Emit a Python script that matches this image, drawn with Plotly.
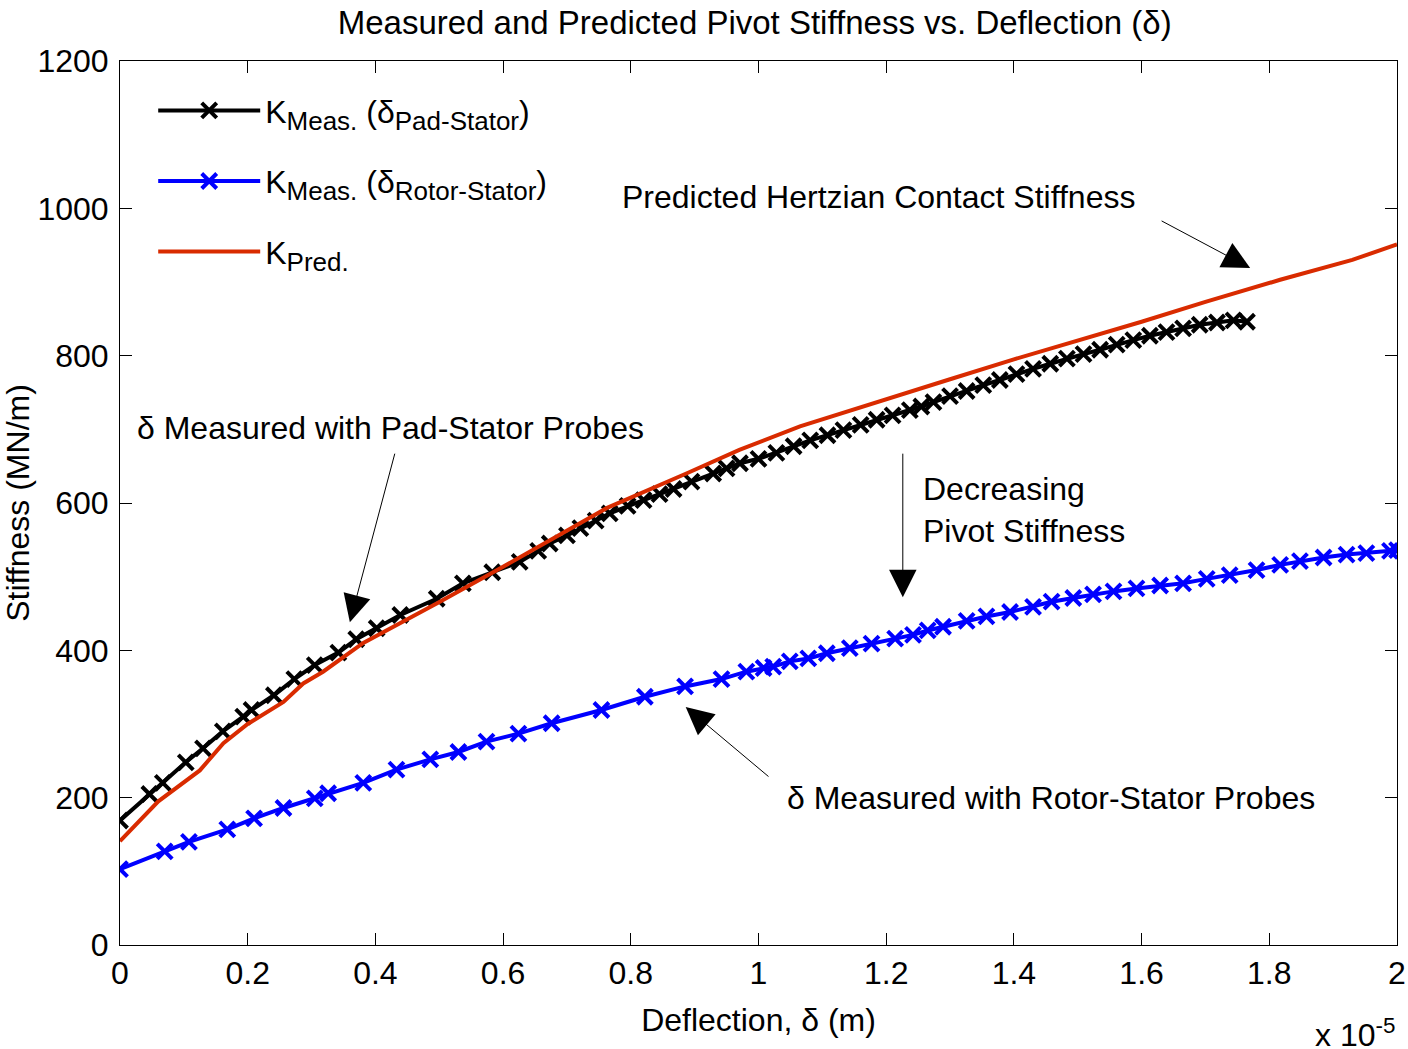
import plotly.graph_objects as go

# x values in units of 1e-5 m
pad_x = [0.000, 0.046, 0.067, 0.103, 0.130, 0.161, 0.193, 0.206, 0.241, 0.273, 0.305, 0.342, 0.370,
         0.402, 0.439, 0.496, 0.537, 0.583, 0.626, 0.655, 0.673, 0.700, 0.721, 0.745, 0.767, 0.795,
         0.820, 0.845, 0.867, 0.895, 0.929, 0.950, 0.971, 1.000, 1.028, 1.055, 1.081, 1.108, 1.133,
         1.160, 1.185, 1.210, 1.237, 1.255, 1.274, 1.300, 1.326, 1.352, 1.378, 1.404, 1.430, 1.457,
         1.483, 1.509, 1.535, 1.561, 1.587, 1.613, 1.639, 1.665, 1.691, 1.718, 1.744, 1.765]
pad_k = [169, 205, 220, 248, 267, 290, 310, 319, 339, 361, 380, 397, 415,
         430, 448, 470, 491, 506, 520, 535, 545, 556, 566, 576, 586, 596,
         604, 612, 619, 629, 640, 647, 654, 660, 668, 677, 685, 692, 699,
         706, 713, 719, 726, 731, 737, 745, 752, 760, 767, 775, 782, 789,
         796, 802, 808, 815, 821, 827, 832, 837, 842, 845, 848, 846]

rotor_x = [0.000, 0.070, 0.108, 0.168, 0.210, 0.256, 0.305, 0.326, 0.381, 0.433, 0.486, 0.530, 0.574,
           0.624, 0.676, 0.754, 0.822, 0.885, 0.942, 0.981, 1.008, 1.023, 1.049, 1.078, 1.107, 1.143,
           1.177, 1.214, 1.242, 1.265, 1.289, 1.326, 1.357, 1.394, 1.430, 1.459, 1.493, 1.524, 1.556,
           1.592, 1.629, 1.665, 1.702, 1.738, 1.780, 1.817, 1.848, 1.885, 1.921, 1.952, 1.989, 2.000]
rotor_k = [103, 127, 140, 157, 172, 186, 199, 206, 220, 238, 252, 262, 276,
           287, 301, 319, 337, 351, 361, 371, 376, 378, 385, 389, 396, 403,
           409, 416, 421, 427, 432, 440, 446, 452, 459, 466, 471, 476, 480,
           484, 488, 491, 497, 502, 509, 516, 521, 526, 530, 532, 535, 536]

pred_x = [0, 0.06, 0.125, 0.162, 0.2, 0.256, 0.287, 0.318, 0.381, 0.444, 0.501, 0.595, 0.68, 0.762,
          0.887, 0.97, 1.065, 1.195, 1.3, 1.4, 1.5, 1.6, 1.7, 1.817, 1.93, 2.0]
pred_k = [141, 195, 237, 274, 300, 330, 355, 371, 410, 439, 466, 511, 552, 593,
          640, 672, 704, 740, 768, 795, 820, 846, 873, 903, 930, 951]

x_ticks = [0, 0.2, 0.4, 0.6, 0.8, 1, 1.2, 1.4, 1.6, 1.8, 2]
x_tick_text = ["0", "0.2", "0.4", "0.6", "0.8", "1", "1.2", "1.4", "1.6", "1.8", "2"]
y_ticks = [0, 200, 400, 600, 800, 1000, 1200]

FONT = "Arial, Liberation Sans, sans-serif"
FS = 32


def sub(s):
    return '<sub><span style="font-size:26px">' + s + '</span></sub>'


fig = go.Figure()
fig.add_trace(go.Scatter(
    x=pad_x, y=pad_k, mode="lines+markers", legendgroup="a",
    name="K" + sub("Meas.") + " (δ" + sub("Pad-Stator") + ")",
    line=dict(color="black", width=4),
    marker=dict(symbol="x-thin", size=15, line=dict(color="black", width=4), color="black"),
))
fig.add_trace(go.Scatter(
    x=rotor_x, y=rotor_k, mode="lines+markers", legendgroup="b",
    name="K" + sub("Meas.") + " (δ" + sub("Rotor-Stator") + ")",
    line=dict(color="#0000ff", width=4),
    marker=dict(symbol="x-thin", size=15, line=dict(color="#0000ff", width=4), color="#0000ff"),
))
fig.add_trace(go.Scatter(
    x=pred_x, y=pred_k, mode="lines", legendgroup="c",
    name="K" + sub("Pred."),
    line=dict(color="#d92b00", width=4),
))

ann = []
def arrow(hx, hy, tx, ty):
    ann.append(dict(x=hx, y=hy, ax=tx, ay=ty, xref="x", yref="y", axref="x", ayref="y",
                    text="", showarrow=True, arrowhead=2, arrowsize=5.5, arrowwidth=1,
                    arrowcolor="black"))

arrow(1.770, 919, 1.629, 984)
arrow(0.360, 438, 0.431, 669)
arrow(1.226, 472, 1.226, 669)
arrow(0.886, 323, 1.018, 227)

txtfont = dict(family=FONT, size=FS, color="black")
ann.append(dict(x=0.783, y=1015, xref="x", yref="y", text="Predicted Hertzian Contact Stiffness",
                showarrow=False, xanchor="left", yanchor="middle", font=txtfont))
ann.append(dict(x=0.0235, y=702, xref="x", yref="y", text="δ Measured with Pad-Stator Probes",
                showarrow=False, xanchor="left", yanchor="middle", font=txtfont))
ann.append(dict(x=1.254, y=590, xref="x", yref="y", text="Decreasing<br>Pivot Stiffness",
                showarrow=False, xanchor="left", yanchor="middle", align="left", font=txtfont))
ann.append(dict(x=1.041, y=199, xref="x", yref="y", text="δ Measured with Rotor-Stator Probes",
                showarrow=False, xanchor="left", yanchor="middle", font=txtfont))
ann.append(dict(x=1.0, y=-0.100, xref="paper", yref="paper", text="x 10<sup>-5</sup>",
                showarrow=False, xanchor="right", yanchor="middle", font=txtfont))

fig.update_layout(
    width=1408, height=1049,
    margin=dict(l=120, r=11, t=61, b=104, autoexpand=False),
    paper_bgcolor="white", plot_bgcolor="white",
    font=dict(family=FONT, size=FS, color="black"),
    title=dict(text="Measured and Predicted Pivot Stiffness vs. Deflection (δ)",
               x=0.536, xanchor="center", y=1 - 22 / 1049, yanchor="middle", yref="container",
               font=dict(family=FONT, size=33, color="black")),
    xaxis=dict(range=[0, 2], tickvals=x_ticks, ticktext=x_tick_text,
               showline=True, linecolor="black", linewidth=1, mirror="ticks",
               ticks="inside", ticklen=12, tickcolor="black", showgrid=False, zeroline=False,
               title=dict(text="Deflection, δ (m)", standoff=18, font=dict(size=FS))),
    yaxis=dict(range=[0, 1200], tickvals=y_ticks, ticklabelstandoff=4,
               showline=True, linecolor="black", linewidth=1, mirror="ticks",
               ticks="inside", ticklen=12, tickcolor="black", showgrid=False, zeroline=False,
               title=dict(text="Stiffness (MN/m)", standoff=0, font=dict(size=FS))),
    legend=dict(x=0.026, y=0.975, xanchor="left", yanchor="top", bgcolor="rgba(0,0,0,0)",
                borderwidth=0, font=dict(family=FONT, size=FS), itemwidth=102,
                tracegroupgap=26),
    annotations=ann,
    showlegend=True,
)

fig.write_html("out.html")
